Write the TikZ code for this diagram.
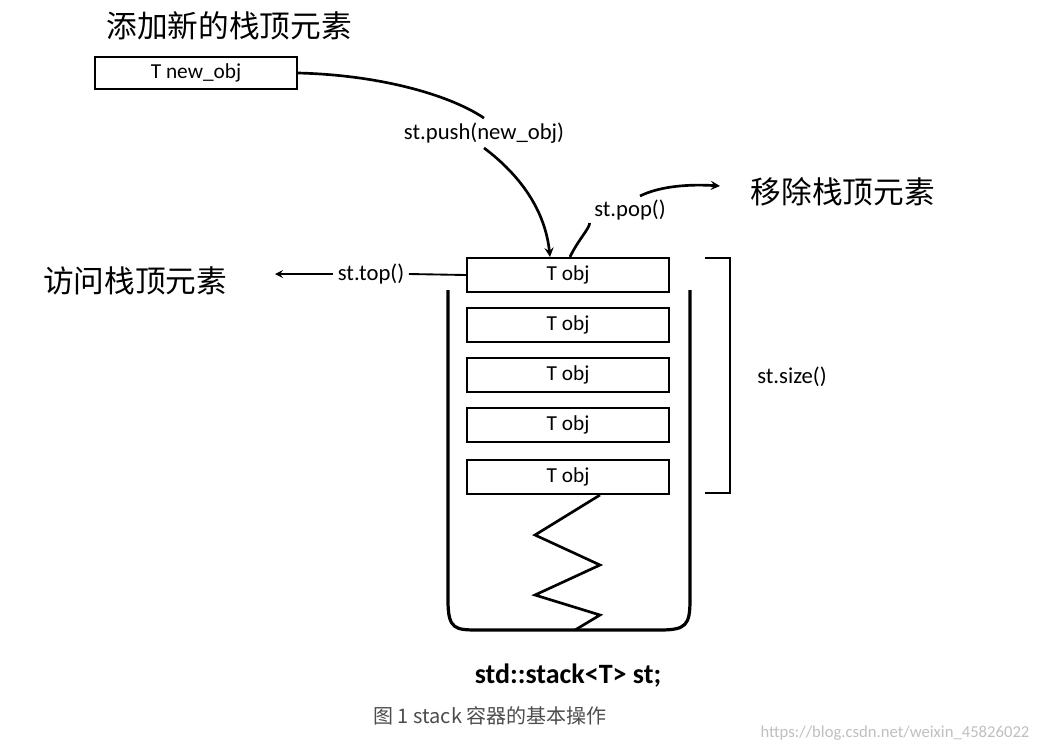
\documentclass[tikz,border=0pt]{standalone}
\usepackage{fontspec}
\setmainfont{Carlito}
\newfontfamily\cjk{Noto Sans CJK SC}
\begin{document}
\begin{tikzpicture}[x=0.75pt,y=-0.75pt,
  box/.style={draw,line width=1.6pt,minimum width=151.5pt,minimum height=25.5pt,inner sep=0pt,font=\fontsize{16}{18}\selectfont},
  lbl/.style={font=\fontsize{17}{19}\selectfont},
  title/.style={font=\cjk\fontsize{23}{27}\selectfont},
  arr/.style={->,>=stealth,line width=2pt}]
\useasboundingbox (0,0) rectangle (1039,751);
\node[title] (t1) at (229,26) {添加新的栈顶元素};
\node[box,minimum height=24pt] (new) at (196,73) {T new\_obj};
\node[box] (b1) at (568,275) {T obj};
\node[box] (b2) at (568,325) {T obj};
\node[box] (b3) at (568,375) {T obj};
\node[box] (b4) at (568,425) {T obj};
\node[box] (b5) at (568,477) {T obj};
\node[lbl] (push) at (484,133) {st.push(new\_obj)};
\draw[line width=2pt] (new.east) .. controls (380,75) and (450,95) .. (push.north);
\draw[arr] (push.south) .. controls (520,175) and (545,210) .. (b1.north -| 550,0);
\node[lbl] (pop) at (630,210) {st.pop()};
\draw[line width=2pt] (b1.north -| 570,0) .. controls (578,240) and (590,228) .. (pop.west |- 0,223);
\coordinate (pe) at (720,186);
\draw[arr] (640,196) .. controls (660,186) and (690,184) .. (pe);
\node[title,anchor=west] (rm) at (746,192) {移除栈顶元素};
\node[lbl] (top) at (371,274) {st.top()};
\draw[line width=1.4pt] (b1.west) -- (top.east);
\coordinate (te) at (275,274);
\draw[->,>=stealth,line width=1.6pt] (top.west) -- (te);
\node[title] (acc) at (135,281) {访问栈顶元素};
\draw[line width=2pt] (705,258) -- (730,258) -- (730,493) -- (705,493);
\node[lbl] (size) at (792,377) {st.size()};
\draw[line width=2.4pt] (448,290) -- (448,600) .. controls (448,630) and (455,630) .. (480,630) -- (660,630) .. controls (686,630) and (690,625) .. (690,600) -- (690,290);
\draw[line width=2pt] (600,495) -- (535,535) -- (600,565) -- (535,595) -- (600,615) -- (575,630);
\node[font=\bfseries\fontsize{21}{24}\selectfont] (cap0) at (568,676) {std::stack<T> st;};
\node[font=\cjk\fontsize{15}{18}\selectfont,text=black!70] (cap) at (490,716) {图 1 stack 容器的基本操作};
\node[font=\fontsize{12.5}{15}\selectfont,text=black!25] (wm) at (895,733) {https://blog.csdn.net/weixin\_45826022};
\end{tikzpicture}
\end{document}
